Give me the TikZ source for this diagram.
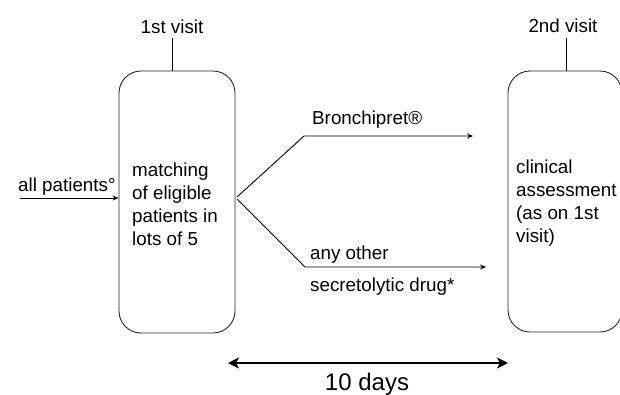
\documentclass[tikz,border=0pt]{standalone}
\usepackage{fontspec}
\setmainfont{Liberation Sans}
\usetikzlibrary{arrows.meta}
\begin{document}
\begin{tikzpicture}[x=1pt,y=-1pt,
  visitbox/.style={draw=black!85,line width=0.9pt,rounded corners=22pt,minimum width=#1,inner sep=0pt},
  txt/.style={font=\fontsize{18.8}{23}\selectfont,inner sep=0pt,align=left},
  conn/.style={draw=black,line width=0.9pt},
  thinarrow/.style={conn,-{Stealth[length=6pt,width=5pt]}},
  bigarrow/.style={draw=black,line width=2pt,{Stealth[length=11pt,width=11pt,inset=3pt]}-{Stealth[length=11pt,width=11pt,inset=3pt]}}]
\useasboundingbox (0,0) rectangle (620,394);
% boxes
\node[visitbox=116pt,minimum height=262pt] (b1) at (177,202) {};
\node[visitbox=114pt,minimum height=261pt] (b2) at (565,201.5) {};
% visit labels and ticks
\node[txt,anchor=base] (v1) at (172,33.5) {1st visit};
\node[txt,anchor=base] (v2) at (563,32) {2nd visit};
\coordinate (t1) at (172,38);
\coordinate (t2) at (566,38);
\draw[conn] (t1) -- (t1 |- b1.north);
\draw[conn] (t2) -- (t2 |- b2.north);
% input
\node[txt,anchor=base west] (ap) at (18,191) {all patients°};
\coordinate (in) at (20,198);
\draw[thinarrow] (in) -- (in -| b1.west);
% box texts (base anchor = baseline of last line)
\node[txt,anchor=base west] (m) at (132,245) {matching\\of eligible\\patients in\\lots of 5};
\node[txt,anchor=base west] (c) at (516,242) {clinical\\assessment\\(as on 1st\\visit)};
% fork
\coordinate (f1) at (237,197);
\coordinate (f2) at (237,199);
\coordinate (u) at (304,136);
\coordinate (l) at (305,267);
\coordinate (ue) at (473,136);
\coordinate (le) at (486,267);
\draw[conn,-{Stealth[length=6pt,width=5pt]}] (f1) -- (u) -- (ue);
\draw[conn,-{Stealth[length=6pt,width=5pt]}] (f2) -- (l) -- (le);
\node[txt,anchor=base west] (br) at (312,124) {Bronchipret®};
\node[txt,anchor=base west] (ao) at (310,259) {any other};
\node[txt,anchor=base west] (sd) at (310,291) {secretolytic drug*};
% duration
\coordinate (d1) at (228,363);
\coordinate (d2) at (508,363);
\draw[bigarrow] (d1) -- (d2);
\node[font=\fontsize{24}{28}\selectfont,inner sep=0pt,anchor=base] (dd) at (367,390) {10 days};
\end{tikzpicture}
\end{document}
